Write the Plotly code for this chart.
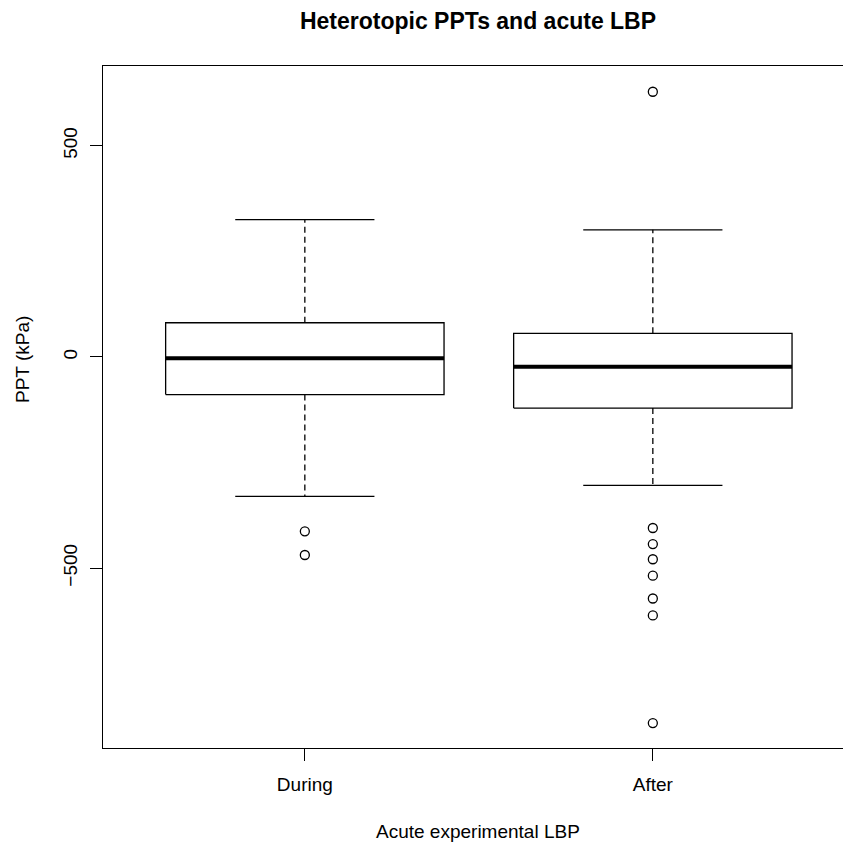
import plotly.graph_objects as go

# ---- data ----
categories = ["During", "After"]
cat_pos = [1, 2]
q1 = [-89, -121]
median = [-3, -23]
q3 = [81, 56]
whisker_low = [-330, -304]
whisker_high = [325, 301]
outliers = [
    [-413, -469],
    [628, -405, -443, -479, -518, -572, -612, -867],
]
y_ticks = [-500, 0, 500]
y_ticktext = ["\u2212500", "0", "500"]

title_text = "Heterotopic PPTs and acute LBP"
x_title = "Acute experimental LBP"
y_title = "PPT (kPa)"

# ---- styles ----
FONT = "Liberation Sans, Arial, Helvetica, sans-serif"
FS = 19
LW = 1.3
BOXW = 0.8
CAPW = 0.4
W = H = 843
ML, MR, MT, MB = 103, 0, 66, 95
X_RANGE = [0.42, 0.42 + (W - ML - MR) / 348.0]
Y_RANGE = [-926, 689]

fig = go.Figure()

for i, xc in enumerate(cat_pos):
    x0, x1 = xc - BOXW / 2, xc + BOXW / 2
    c0, c1 = xc - CAPW / 2, xc + CAPW / 2
    # box
    fig.add_trace(go.Scatter(
        x=[x0, x0, x1, x1, x0], y=[q1[i], q3[i], q3[i], q1[i], q1[i]],
        mode="lines", line=dict(color="black", width=LW),
        hoverinfo="skip", showlegend=False))
    # whiskers (dashed)
    fig.add_trace(go.Scatter(
        x=[xc, xc, None, xc, xc],
        y=[q3[i], whisker_high[i], None, q1[i], whisker_low[i]],
        mode="lines", line=dict(color="black", width=LW, dash="6px,4px"),
        hoverinfo="skip", showlegend=False))
    # caps
    fig.add_trace(go.Scatter(
        x=[c0, c1, None, c0, c1],
        y=[whisker_high[i], whisker_high[i], None, whisker_low[i], whisker_low[i]],
        mode="lines", line=dict(color="black", width=LW),
        hoverinfo="skip", showlegend=False))
    # median
    fig.add_trace(go.Scatter(
        x=[x0, x1], y=[median[i], median[i]],
        mode="lines", line=dict(color="black", width=4),
        hoverinfo="skip", showlegend=False))
    # outliers
    fig.add_trace(go.Scatter(
        x=[xc] * len(outliers[i]), y=outliers[i],
        mode="markers",
        marker=dict(symbol="circle-open", size=9, color="black",
                    line=dict(color="black", width=LW)),
        hoverinfo="skip", showlegend=False))

fig.update_layout(
    width=W, height=H,
    margin=dict(l=ML, r=MR, t=MT, b=MB),
    paper_bgcolor="white", plot_bgcolor="white",
    font=dict(family=FONT, color="black", size=FS),
    title=dict(text="<b>" + title_text + "</b>", x=478 / W, xanchor="center",
               y=1 - 21 / H, yanchor="middle",
               font=dict(family=FONT, size=23, color="black")),
    showlegend=False,
)
fig.update_xaxes(
    range=X_RANGE, tickmode="array", tickvals=cat_pos, ticktext=categories,
    showgrid=False, zeroline=False, showline=True, mirror=True,
    linecolor="black", linewidth=LW, ticks="outside", ticklen=12,
    tickwidth=LW, tickcolor="black", ticklabelstandoff=7,
    tickfont=dict(size=FS, family=FONT, color="black"),
)
fig.update_yaxes(
    range=Y_RANGE, tickmode="array", tickvals=y_ticks, ticktext=y_ticktext,
    showgrid=False, zeroline=False, showline=True, mirror=False,
    linecolor="black", linewidth=LW, ticks="outside", ticklen=12,
    tickwidth=LW, tickcolor="black", tickangle=-90, ticklabelstandoff=5,
    tickfont=dict(size=FS, family=FONT, color="black"),
)

fig.add_annotation(text=x_title, xref="paper", yref="paper",
                   x=(478 - ML) / (W - ML - MR), y=0, yshift=-83,
                   xanchor="center", yanchor="middle", showarrow=False,
                   font=dict(size=FS, family=FONT, color="black"))
fig.add_annotation(text=y_title, xref="paper", yref="paper",
                   x=0, xshift=23 - ML, y=(H - MB - 360) / (H - MT - MB),
                   xanchor="center", yanchor="middle", textangle=-90,
                   showarrow=False,
                   font=dict(size=FS, family=FONT, color="black"))

fig.write_html("out.html")
